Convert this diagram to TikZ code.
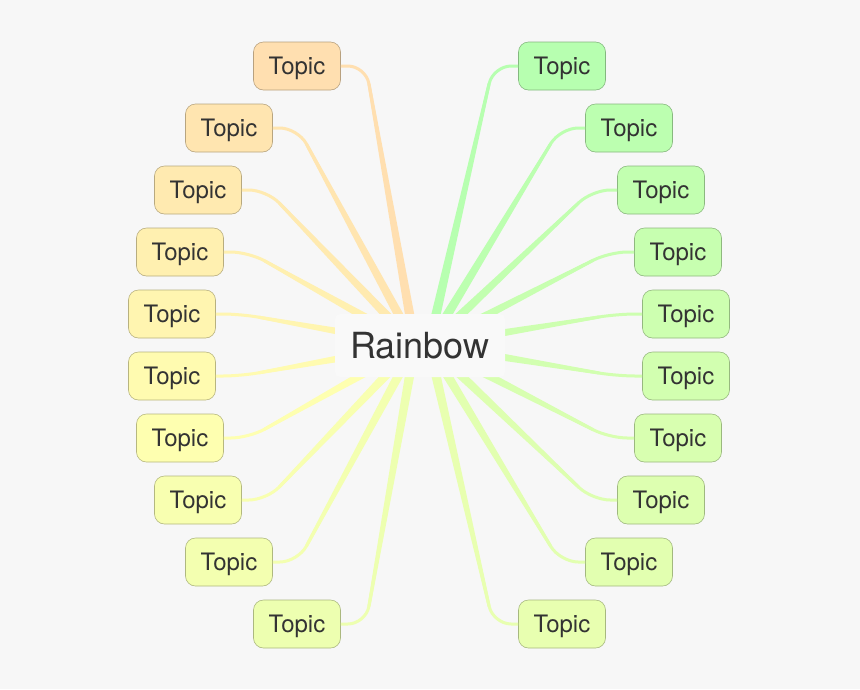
\documentclass[tikz,border=0pt]{standalone}
\usepackage{fontspec}
\setmainfont{TeX Gyre Heros}
\usepackage{xcolor}
\usetikzlibrary{calc}
\selectcolormodel{rgb}
\definecolor{mBg}{HTML}{F7F7F7}
\definecolor{mCore}{HTML}{F9F9F9}
\definecolor{mText}{HTML}{333333}

\begin{document}
\begin{tikzpicture}[x=1pt, y=-1pt,
  topic/.style={draw=#1!72!black, line width=0.6pt, fill=#1, rounded corners=10pt, minimum width=87pt, minimum height=48pt, inner sep=0pt, text depth=1pt, text=mText, font=\fontsize{24}{28}\selectfont},
  branch/.style={draw=#1, line width=3pt, rounded corners=18pt}]
\fill[mBg] (0,0) rectangle (860,689);
\useasboundingbox (0,0) rectangle (860,689);
\coordinate (origL) at (415,345);
\coordinate (origR) at (429,345);
% left half: orange down to yellow-green
\foreach \i/\x/\y in {1/297/66, 2/229/128, 3/198/190, 4/180/252, 5/172/314, 6/172/376, 7/180/438, 8/198/500, 9/229/562, 10/297/624} {
  \pgfmathsetmacro{\hue}{36+4.15*(\i-1)}
  \definecolor{tmpL}{Hsb}{\hue,0.31,1}
  \colorlet{cL}[rgb]{tmpL}
  \node[topic=cL] (left\i) at (\x,\y) {Topic};
  \coordinate (bend) at ($(left\i.east)+(25,0)$);
  \coordinate (stop) at ($(bend)!18pt!(origL)$);
  \fill[cL] ($(origL)!5pt!90:(stop)$) -- ($(stop)!1.5pt!-90:(origL)$) -- ($(stop)!1.5pt!90:(origL)$) -- ($(origL)!5pt!-90:(stop)$) -- cycle;
  \draw[branch=cL] (origL) -- (bend) -- (left\i.east);
}
% right half: green down to yellow-green
\foreach \i/\x/\y in {1/562/66, 2/629/128, 3/661/190, 4/678/252, 5/686/314, 6/686/376, 7/678/438, 8/661/500, 9/629/562, 10/562/624} {
  \pgfmathsetmacro{\hue}{36+4.15*(20-\i)}
  \definecolor{tmpR}{Hsb}{\hue,0.31,1}
  \colorlet{cR}[rgb]{tmpR}
  \node[topic=cR] (right\i) at (\x,\y) {Topic};
  \coordinate (bend) at ($(right\i.west)+(-25,0)$);
  \coordinate (stop) at ($(bend)!18pt!(origR)$);
  \fill[cR] ($(origR)!5pt!90:(stop)$) -- ($(stop)!1.5pt!-90:(origR)$) -- ($(stop)!1.5pt!90:(origR)$) -- ($(origR)!5pt!-90:(stop)$) -- cycle;
  \draw[branch=cR] (origR) -- (bend) -- (right\i.west);
}
\node[fill=mCore, rounded corners=5pt, minimum width=170pt, minimum height=63pt, text=mText, font=\fontsize{36}{42}\selectfont] (core) at (420,345.5) {Rainbow};
\end{tikzpicture}
\end{document}
